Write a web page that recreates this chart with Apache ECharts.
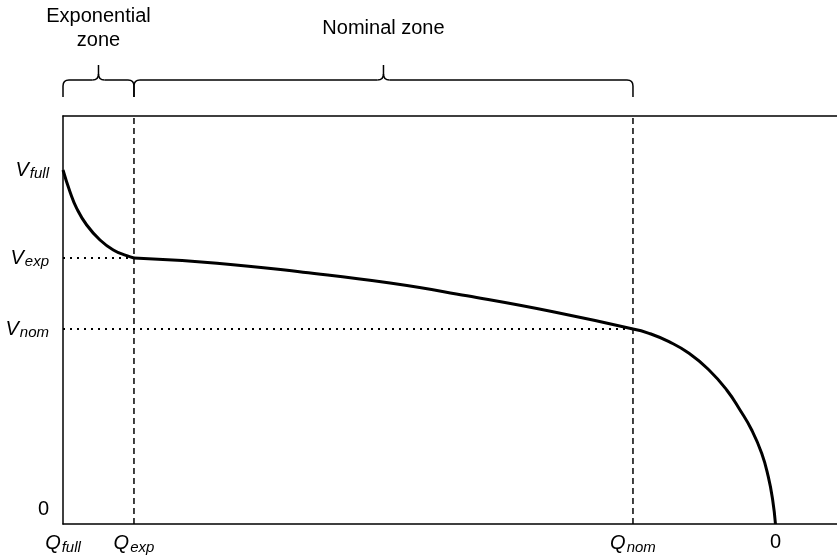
<!DOCTYPE html>
<html>
<head>
<meta charset="utf-8">
<script src="https://cdn.jsdelivr.net/npm/echarts@6/dist/echarts.min.js"></script>
<style>html,body{margin:0;padding:0;background:#fff}#c{width:837px;height:559px}</style>
</head>
<body>
<div id="c"></div>
<script>
// Axis extents (capacity in arbitrary units, voltage in arbitrary units)
const xRange = [0, 10];
const yRange = [0, 4.08];

// Key capacity points (x tick positions) and labels
const qValues = [0, 0.917, 7.364, 9.205];
const qLabels = [['Q', 'full'], ['Q', 'exp'], ['Q', 'nom'], ['0', '']];

// Key voltage points (y tick positions) and labels
const vValues = [0, 1.95, 2.66, 3.54];
const vLabels = [['0', ''], ['V', 'nom'], ['V', 'exp'], ['V', 'full']];

// Discharge curve — exponential zone
const capacityExp = [0, 0.090, 0.177, 0.306, 0.478, 0.650, 0.823, 0.917];
const voltageExp  = [3.54, 3.323, 3.157, 2.99, 2.84, 2.74, 2.683, 2.66];
// Nominal zone
const capacityNom = [0.917, 1.990, 3.101, 4.225, 5.220, 6.331, 7.364];
const voltageNom  = [2.66, 2.608, 2.518, 2.41, 2.282, 2.123, 1.95];
// End-of-discharge
const capacityEnd = [7.364, 7.571, 7.829, 8.088, 8.346, 8.575, 8.747, 8.898, 9.027, 9.112, 9.169, 9.205];
const voltageEnd  = [1.95, 1.907, 1.823, 1.707, 1.54, 1.34, 1.14, 0.94, 0.707, 0.473, 0.24, 0];

// Zones (start, end, name)
const zoneStarts = [0, 0.917];
const zoneEnds = [0.917, 7.364];
const zoneNames = ['Exponential\nzone', 'Nominal zone'];

const FONT = '"Liberation Sans", Arial, Helvetica, sans-serif';
const zip = (a, b) => a.map((v, i) => [v, b[i]]);

const rich = {
  m: { fontSize: 20, fontStyle: 'italic', fontFamily: FONT, color: '#000' },
  s: { fontSize: 15, fontStyle: 'italic', fontFamily: FONT, color: '#000', padding: [8, 0, 0, 1] },
  z: { fontSize: 20, fontFamily: FONT, color: '#000' },
  zy: { fontSize: 20, fontFamily: FONT, color: '#000', padding: [0, 0, 30, 0] }
};

function findLabel(values, labels, v) {
  let best = 0, d = Infinity;
  values.forEach((x, i) => { if (Math.abs(x - v) < d) { d = Math.abs(x - v); best = i; } });
  return labels[best];
}

const chart = echarts.init(document.getElementById('c'), null, { renderer: 'canvas' });

const curveStyle = { color: '#000', width: 3 };
const curveSeries = (data) => ({
  type: 'line', data, smooth: 0.5, symbol: 'none',
  lineStyle: curveStyle, z: 5, animation: false
});

const guideSeries = [];
// vertical dashed lines at Q_exp and Q_nom
[qValues[1], qValues[2]].forEach(q => {
  guideSeries.push({
    type: 'line', data: [[q, yRange[0]], [q, yRange[1]]], symbol: 'none', animation: false,
    lineStyle: { color: '#000', width: 1.5, type: [6, 4] }, z: 2
  });
});
// horizontal dotted lines at V_exp and V_nom
[[vValues[2], qValues[1]], [vValues[1], qValues[2]]].forEach(([v, q]) => {
  guideSeries.push({
    type: 'line', data: [[0, v], [q, v]], symbol: 'none', animation: false,
    lineStyle: { color: '#000', width: 2, type: [2, 5] }, z: 2
  });
});

chart.setOption({
  animation: false,
  backgroundColor: '#fff',
  grid: { left: 63, right: 0, top: 116, bottom: 35, containLabel: false },
  xAxis: [{
    type: 'value', min: xRange[0], max: xRange[1], position: 'bottom',
    axisLine: { show: true, lineStyle: { color: '#000', width: 1.5 } },
    axisTick: { show: false }, splitLine: { show: false },
    axisLabel: {
      customValues: qValues, margin: 8, rich,
      formatter: (v) => {
        const [m, s] = findLabel(qValues, qLabels, v);
        return s ? `{m|${m}}{s|${s}}` : `{z|${m}}`;
      }
    }
  }, {
    type: 'value', min: xRange[0], max: xRange[1], position: 'top',
    axisLine: { show: true, lineStyle: { color: '#000', width: 1.5 } },
    axisTick: { show: false }, splitLine: { show: false }, axisLabel: { show: false }
  }],
  yAxis: {
    type: 'value', min: yRange[0], max: yRange[1],
    axisLine: { show: true, lineStyle: { color: '#000', width: 1.5 } },
    axisTick: { show: false }, splitLine: { show: false },
    axisLabel: {
      customValues: vValues, margin: 14, rich,
      formatter: (v) => {
        const [m, s] = findLabel(vValues, vLabels, v);
        return s ? `{m|${m}}{s|${s}}` : `{zy|${m}}`;
      }
    }
  },
  series: [
    curveSeries(zip(capacityExp, voltageExp)),
    curveSeries(zip(capacityNom, voltageNom)),
    curveSeries(zip(capacityEnd, voltageEnd)),
    ...guideSeries
  ]
});

// Braces and zone labels above the plot, positioned from the data scale
const yb = 97, ym = 80, yt = 65, r = 6;
const stroke = { stroke: '#000', lineWidth: 1.5, fill: null };
const elements = [];
zoneStarts.forEach((q0, i) => {
  const x1 = chart.convertToPixel({ xAxisIndex: 0 }, q0);
  const x2 = chart.convertToPixel({ xAxisIndex: 0 }, zoneEnds[i]);
  const xm = (x1 + x2) / 2;
  const seg = (a, b, c, d) => elements.push({ type: 'line', shape: { x1: a, y1: b, x2: c, y2: d }, style: stroke, silent: true });
  const qc = (a, b, cx, cy, c, d) => elements.push({ type: 'bezierCurve', shape: { x1: a, y1: b, cpx1: cx, cpy1: cy, x2: c, y2: d }, style: stroke, silent: true });
  seg(x1, yb, x1, ym + r);
  qc(x1, ym + r, x1, ym, x1 + r, ym);
  seg(x1 + r, ym, xm - r, ym);
  qc(xm - r, ym, xm, ym, xm, ym - r);
  seg(xm, ym - r, xm, yt);
  qc(xm + r, ym, xm, ym, xm, ym - r);
  seg(xm + r, ym, x2 - r, ym);
  qc(x2 - r, ym, x2, ym, x2, ym + r);
  seg(x2, ym + r, x2, yb);
  elements.push({
    type: 'text', x: xm, y: 28, silent: true,
    style: { text: zoneNames[i], fontSize: 20, fontFamily: FONT, fill: '#000', align: 'center', verticalAlign: 'middle', lineHeight: 24 }
  });
});
chart.setOption({ graphic: { elements } });
</script>
</body>
</html>
